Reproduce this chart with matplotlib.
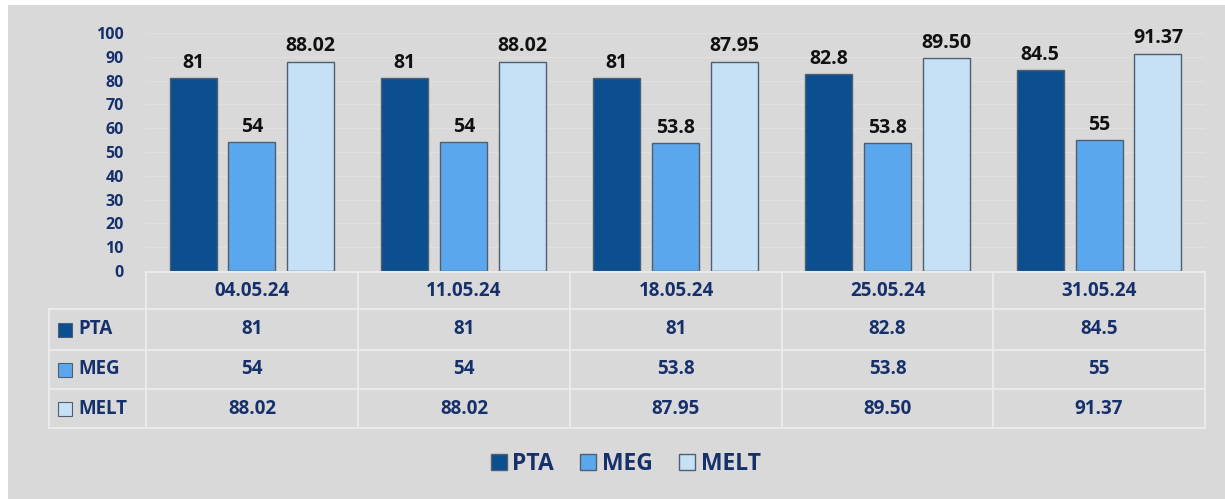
import matplotlib.pyplot as plt
import numpy as np
from matplotlib.lines import Line2D
from matplotlib.patches import Rectangle

dates = ['04.05.24', '11.05.24', '18.05.24', '25.05.24', '31.05.24']
series_names = ['PTA', 'MEG', 'MELT']
pta = [81, 81, 81, 82.8, 84.5]
meg = [54, 54, 53.8, 53.8, 55]
melt = [88.02, 88.02, 87.95, 89.50, 91.37]
labels_pta = ['81', '81', '81', '82.8', '84.5']
labels_meg = ['54', '54', '53.8', '53.8', '55']
labels_melt = ['88.02', '88.02', '87.95', '89.50', '91.37']

colors = ['#0b4f91', '#5aa7ee', '#c6e0f6']
navy = '#16306b'
bg = '#d9d9d9'
W, H = 1225, 499

plt.rcParams['font.family'] = ['Open Sans', 'DejaVu Sans']
fig = plt.figure(figsize=(W / 100, H / 100), dpi=100)
fig.patch.set_facecolor('white')
fig.add_artist(Rectangle((8 / W, 0), 1 - 8 / W, 1 - 5 / H, transform=fig.transFigure,
                         facecolor=bg, edgecolor='none', zorder=-10))


def fx(px):
    return px / W


def fy(py):
    return 1 - py / H


ax = fig.add_axes([fx(146), fy(271), fx(1205) - fx(146), fy(33) - fy(271)])
ax.set_facecolor('none')
x = np.arange(len(dates))
width = 0.222
step = 0.278
all_vals = [pta, meg, melt]
all_labels = [labels_pta, labels_meg, labels_melt]
for i, (vals, labs) in enumerate(zip(all_vals, all_labels)):
    pos = x + (i - 1) * step
    bars = ax.bar(pos, vals, width, color=colors[i], edgecolor='#4f5f70', linewidth=1.0, zorder=3)
    for b, lab in zip(bars, labs):
        ax.text(b.get_x() + b.get_width() / 2, b.get_height() + 2.2, lab, ha='center', va='bottom',
                fontsize=14, fontweight='bold', color='#111111')

ax.set_xlim(-0.5, len(dates) - 0.5)
ax.set_ylim(0, 100)
ax.set_yticks(range(0, 101, 10))
ax.tick_params(axis='y', length=0, pad=16, labelsize=11.5, labelcolor=navy)
for t in ax.get_yticklabels():
    t.set_fontweight('bold')
ax.set_xticks([])
for s in ax.spines.values():
    s.set_visible(False)
ax.yaxis.grid(True, color='#e0e0e0', linewidth=0.8, zorder=0)

# data table under the chart
col_edges = [146, 358, 570, 782, 993, 1205]
row_edges = [272, 309, 350, 389, 428]
line_kw = dict(color='#ececec', linewidth=1.3, transform=fig.transFigure)
fig.add_artist(Line2D([fx(146), fx(1205)], [fy(272), fy(272)], **line_kw))
for ry in row_edges[1:]:
    fig.add_artist(Line2D([fx(49), fx(1205)], [fy(ry), fy(ry)], **line_kw))
for cx in col_edges:
    fig.add_artist(Line2D([fx(cx), fx(cx)], [fy(272), fy(428)], **line_kw))
fig.add_artist(Line2D([fx(49), fx(49)], [fy(309), fy(428)], **line_kw))

for j, d in enumerate(dates):
    cx = (col_edges[j] + col_edges[j + 1]) / 2
    fig.text(fx(cx), fy((row_edges[0] + row_edges[1]) / 2), d, ha='center', va='center',
             fontsize=13.5, fontweight='bold', color=navy)
    for i, labs in enumerate(all_labels):
        cy = (row_edges[i + 1] + row_edges[i + 2]) / 2
        fig.text(fx(cx), fy(cy), labs[j], ha='center', va='center',
                 fontsize=13.5, fontweight='bold', color=navy)

for i, name in enumerate(series_names):
    cy = (row_edges[i + 1] + row_edges[i + 2]) / 2
    fig.add_artist(Rectangle((fx(58), fy(cy + 7)), 14 / W, 14 / H, transform=fig.transFigure,
                             facecolor=colors[i], edgecolor='#4f5f70', linewidth=0.8))
    fig.text(fx(78), fy(cy), name, ha='left', va='center', fontsize=13.5, fontweight='bold', color=navy)

# legend
handles = [Line2D([], [], marker='s', linestyle='none', markersize=12, markerfacecolor=c,
                  markeredgecolor='#4f5f70') for c in colors]
leg = fig.legend(handles, series_names, loc='center', bbox_to_anchor=(fx(623), fy(464)), ncol=3,
                 frameon=False, handletextpad=0.0, columnspacing=0.9, handlelength=1.2,
                 prop={'size': 16.5, 'weight': 'bold'})
for t in leg.get_texts():
    t.set_color(navy)

fig.savefig('out.png', dpi=100, facecolor=fig.get_facecolor())
